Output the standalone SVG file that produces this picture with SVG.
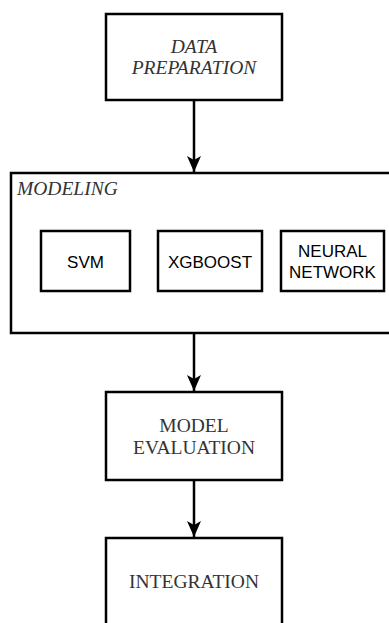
<svg xmlns="http://www.w3.org/2000/svg" width="389" height="623" viewBox="0 0 389 623">
<style>
.box{fill:#fff;stroke:#000;stroke-width:2.5}
.sub{fill:#fff;stroke:#000;stroke-width:2.5}
.serif{font-family:"Liberation Serif","DejaVu Serif",serif;font-size:19.5px;fill:#333;text-anchor:middle}
.it{font-style:italic}
.sans{font-family:"Liberation Sans",Arial,sans-serif;font-size:17px;fill:#000;text-anchor:middle}
.edge{stroke:#000;stroke-width:2.5;fill:none}
</style>
<defs>
<marker id="arr" markerUnits="userSpaceOnUse" markerWidth="18" markerHeight="16" viewBox="0 0 18 16" refX="17" refY="8" orient="auto">
<path d="M17 8 L1 1 L5 8 L1 15 Z" fill="#000"/>
</marker>
</defs>
<rect width="389" height="623" fill="#fff"/>
<g id="modeling">
<rect class="box" x="11" y="173" width="390" height="160"/>
<text class="serif it" x="17" y="195" style="text-anchor:start">MODELING</text>
</g>
<g id="data-preparation">
<rect class="box" x="106" y="14" width="176" height="86"/>
<text class="serif it" x="194" y="53">DATA</text>
<text class="serif it" x="194" y="74">PREPARATION</text>
</g>
<g id="svm">
<rect class="sub" x="41" y="231" width="89" height="60"/>
<text class="sans" x="85.5" y="268">SVM</text>
</g>
<g id="xgboost">
<rect class="sub" x="158" y="231" width="104" height="60"/>
<text class="sans" x="210" y="268">XGBOOST</text>
</g>
<g id="neural-network">
<rect class="sub" x="281" y="231" width="103" height="60"/>
<text class="sans" x="332.5" y="257">NEURAL</text>
<text class="sans" x="332.5" y="278">NETWORK</text>
</g>
<g id="model-evaluation">
<rect class="box" x="106" y="392" width="176" height="88"/>
<text class="serif" x="194" y="432">MODEL</text>
<text class="serif" x="194" y="454">EVALUATION</text>
</g>
<g id="integration">
<rect class="box" x="106" y="538" width="176" height="100"/>
<text class="serif" x="194" y="588">INTEGRATION</text>
</g>
<g id="connectors">
<line class="edge" x1="194" y1="100" x2="194" y2="172" marker-end="url(#arr)"/>
<line class="edge" x1="194" y1="333" x2="194" y2="391" marker-end="url(#arr)"/>
<line class="edge" x1="194" y1="480" x2="194" y2="537" marker-end="url(#arr)"/>
</g>
</svg>
